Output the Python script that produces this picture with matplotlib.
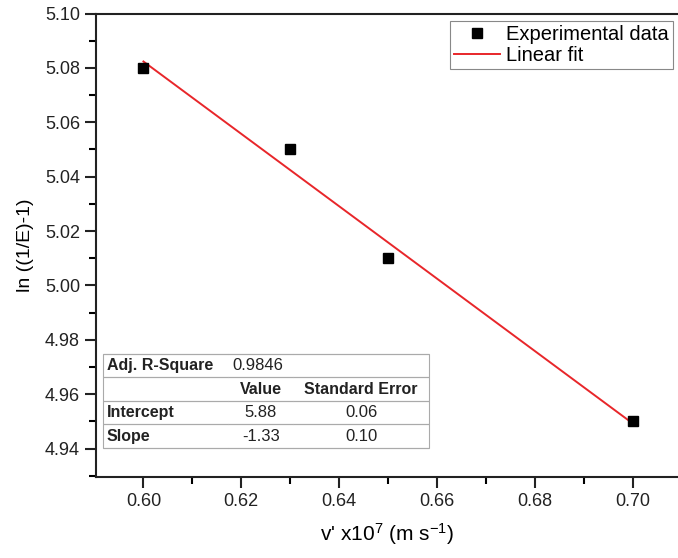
import matplotlib.pyplot as plt
import numpy as np

plt.rcParams['font.family'] = ['Liberation Sans', 'DejaVu Sans']
plt.rcParams['mathtext.default'] = 'regular'

# Experimental data
velocity = [0.60, 0.63, 0.65, 0.70]
ln_e = [5.08, 5.05, 5.01, 4.95]

# Fit summary shown in the table
adj_r2 = '0.9846'
fit_rows = [['Intercept', '5.88', '0.06'],
            ['Slope', '-1.33', '0.10']]

slope, intercept = np.polyfit(velocity, ln_e, 1)
x_fit = np.array([min(velocity), max(velocity)])
y_fit = intercept + slope * x_fit

fig = plt.figure(figsize=(6.78, 5.58), dpi=100)
ax = fig.add_axes([0.1416, 0.1452, 0.8584, 0.8306])

ax.plot(velocity, ln_e, 's', color='black', markersize=7.5, label='Experimental data', zorder=3)
ax.plot(x_fit, y_fit, '-', color='#e8262a', lw=1.4, label='Linear fit', zorder=2)

ax.set_xlim(0.5903, 0.7093)
ax.set_ylim(4.9296, 5.10)
ax.set_xticks(np.arange(0.60, 0.701, 0.02))
ax.set_xticks(np.arange(0.61, 0.70, 0.02), minor=True)
ax.set_yticks(np.arange(4.94, 5.101, 0.02))
ax.set_yticks(np.arange(4.93, 5.10, 0.02), minor=True)
ax.xaxis.set_major_formatter(plt.FormatStrFormatter('%.2f'))
ax.yaxis.set_major_formatter(plt.FormatStrFormatter('%.2f'))
ax.tick_params(which='major', direction='out', length=8, width=1.5, labelsize=13, colors='#222222')
ax.tick_params(which='minor', direction='out', length=5, width=1.5)
ax.spines['right'].set_visible(False)
for s in ['left', 'bottom', 'top']:
    ax.spines[s].set_linewidth(1.5)
    ax.spines[s].set_color('#222222')

ax.set_xlabel("v' x10$^{7}$ (m s$^{-1}$)", fontsize=15, labelpad=8)
ax.set_ylabel('ln ((1/E)-1)', fontsize=14, labelpad=8)

leg = ax.legend(loc='upper right', bbox_to_anchor=(0.9914, 0.9838), borderaxespad=0,
                fancybox=False, edgecolor='#888888', framealpha=1, fontsize=14.5,
                handlelength=2.3, handletextpad=0.3, borderpad=0.2, labelspacing=0.1)
leg.get_frame().set_linewidth(0.8)

# fit table
cells = [['Adj. R-Square', adj_r2, ''], ['', 'Value', 'Standard Error']] + fit_rows
tab = ax.table(cellText=cells, colWidths=[0.215, 0.112, 0.233],
               bbox=[0.012, 0.0626, 0.560, 0.203], edges='horizontal')
tab.auto_set_font_size(False)
tab.set_fontsize(12)
for (r, c), cell in tab.get_celld().items():
    cell.set_edgecolor('#aaaaaa')
    cell.set_linewidth(0.8)
    txt = cell.get_text()
    if c == 0:
        txt.set_ha('left')
        cell.PAD = 0.03
        txt.set_fontweight('bold')
        txt.set_fontsize(11.5)
    else:
        txt.set_ha('center')
    if r == 1:
        txt.set_fontweight('bold')
        txt.set_fontsize(11.5)
    if r == 0 and c == 1:
        txt.set_ha('left')
        cell.PAD = 0.06
    txt.set_color('#222222')
border = plt.Rectangle((0.012, 0.0626), 0.560, 0.203, transform=ax.transAxes,
                       fill=False, edgecolor='#aaaaaa', lw=0.8, zorder=5)
ax.add_patch(border)

fig.savefig('out.png', dpi=100)
